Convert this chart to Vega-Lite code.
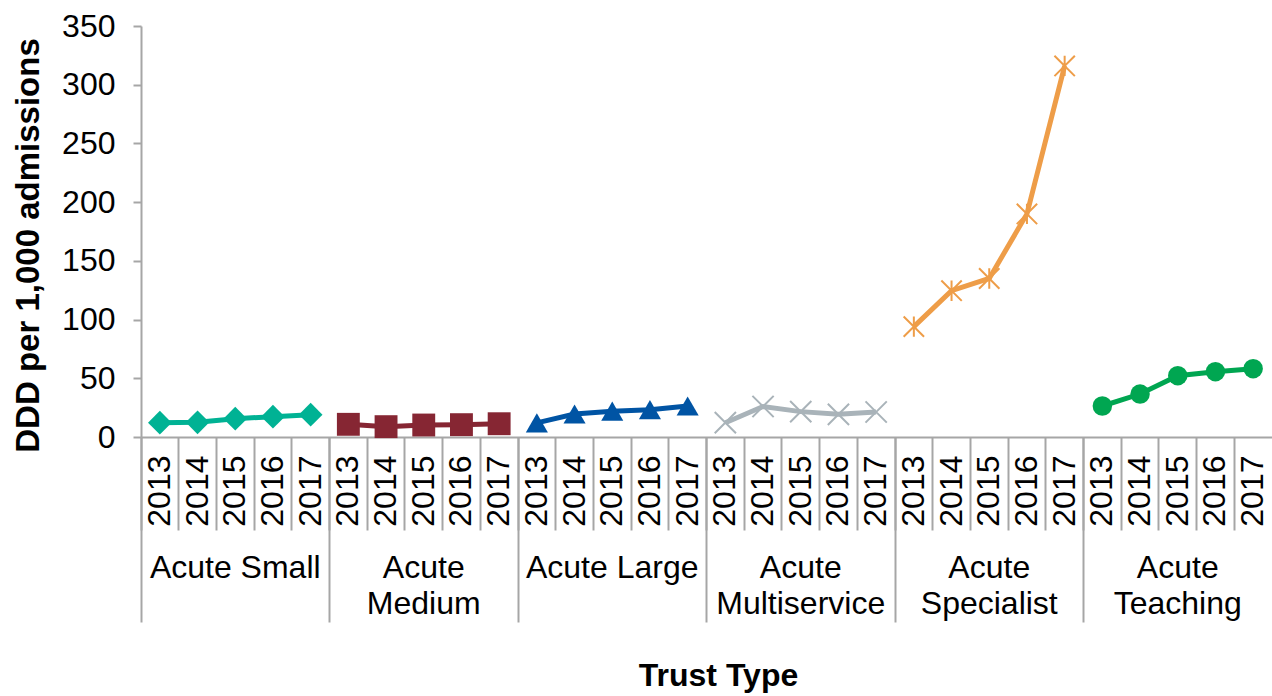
{
  "$schema": "https://vega.github.io/schema/vega-lite/v6.json",
  "autosize": {"type": "none"},
  "width": 1131,
  "height": 411,
  "padding": {"left": 141, "top": 26, "right": 0, "bottom": 259},
  "background": "white",
  "config": {
    "view": {"stroke": null},
    "font": "Liberation Sans",
    "axis": {"domainColor": "#A6A6A6", "tickColor": "#A6A6A6", "domainWidth": 2, "tickWidth": 2, "labelColor": "#000000", "titleColor": "#000000", "labelFont": "Liberation Sans", "titleFont": "Liberation Sans", "labelFontSize": 32, "titleFontSize": 32, "titleFontWeight": "bold", "grid": false}
  },
  "data": {"values": [
    {"type": "Acute Small", "year": "2013", "ddd": 12.2},
    {"type": "Acute Small", "year": "2014", "ddd": 12.5},
    {"type": "Acute Small", "year": "2015", "ddd": 15.6},
    {"type": "Acute Small", "year": "2016", "ddd": 17.3},
    {"type": "Acute Small", "year": "2017", "ddd": 19.0},
    {"type": "Acute Medium", "year": "2013", "ddd": 10.8},
    {"type": "Acute Medium", "year": "2014", "ddd": 8.8},
    {"type": "Acute Medium", "year": "2015", "ddd": 10.2},
    {"type": "Acute Medium", "year": "2016", "ddd": 10.5},
    {"type": "Acute Medium", "year": "2017", "ddd": 11.3},
    {"type": "Acute Large", "year": "2013", "ddd": 12.0},
    {"type": "Acute Large", "year": "2014", "ddd": 19.6},
    {"type": "Acute Large", "year": "2015", "ddd": 22.0},
    {"type": "Acute Large", "year": "2016", "ddd": 23.3},
    {"type": "Acute Large", "year": "2017", "ddd": 26.4},
    {"type": "Acute Multiservice", "year": "2013", "ddd": 12.2},
    {"type": "Acute Multiservice", "year": "2014", "ddd": 26.0},
    {"type": "Acute Multiservice", "year": "2015", "ddd": 21.6},
    {"type": "Acute Multiservice", "year": "2016", "ddd": 19.3},
    {"type": "Acute Multiservice", "year": "2017", "ddd": 21.3},
    {"type": "Acute Specialist", "year": "2013", "ddd": 94},
    {"type": "Acute Specialist", "year": "2014", "ddd": 124.6},
    {"type": "Acute Specialist", "year": "2015", "ddd": 135},
    {"type": "Acute Specialist", "year": "2016", "ddd": 190},
    {"type": "Acute Specialist", "year": "2017", "ddd": 316},
    {"type": "Acute Teaching", "year": "2013", "ddd": 26.4},
    {"type": "Acute Teaching", "year": "2014", "ddd": 36.6},
    {"type": "Acute Teaching", "year": "2015", "ddd": 52.2},
    {"type": "Acute Teaching", "year": "2016", "ddd": 55.6},
    {"type": "Acute Teaching", "year": "2017", "ddd": 58.2}
  ]},
  "transform": [{"calculate": "datum.type + '|' + datum.year", "as": "key"}],
  "resolve": {"axis": {"x": "independent"}},
  "layer": [
    {
      "mark": {"type": "line", "strokeWidth": 5},
      "encoding": {
        "x": {"field": "key", "type": "ordinal", "sort": null,
          "scale": {"type": "band", "paddingInner": 0, "paddingOuter": 0},
          "axis": {"orient": "bottom", "title": null, "bandPosition": 0, "ticks": true, "tickSize": 93,
            "labelExpr": "split(datum.value, '|')[1]", "labelAngle": 270, "labelPadding": -75,
            "labelOverlap": false, "labelAlign": "right", "labelBaseline": "middle"}},
        "y": {"field": "ddd", "type": "quantitative",
          "scale": {"domain": [0, 350], "nice": false, "zero": true},
          "axis": {"title": "DDD per 1,000 admissions", "values": [0, 50, 100, 150, 200, 250, 300, 350],
            "tickSize": 8, "labelPadding": 18, "titleAngle": 270, "titleAlign": "center", "titleBaseline": "middle",
            "titleFontSize": 33, "titleX": -113, "titleY": 219}},
        "color": {"field": "type", "type": "nominal", "legend": null,
          "scale": {"domain": ["Acute Small", "Acute Medium", "Acute Large", "Acute Multiservice", "Acute Specialist", "Acute Teaching"],
            "range": ["#00B294", "#862633", "#0054A4", "#A9B3B9", "#EE9D48", "#00A651"]}}
      }
    },
    {
      "transform": [{"filter": "datum.type != 'Acute Multiservice' && datum.type != 'Acute Specialist'"}],
      "mark": {"type": "point", "filled": true, "opacity": 1},
      "encoding": {
        "x": {"field": "key", "type": "ordinal", "sort": null,
          "axis": {"orient": "bottom", "title": "Trust Type", "ticks": false, "domain": false,
            "values": ["Acute Small|2015", "Acute Medium|2015", "Acute Large|2015", "Acute Multiservice|2015", "Acute Specialist|2015", "Acute Teaching|2015"],
            "labelExpr": "indexof(['Acute Small','Acute Large'], split(datum.value, '|')[0]) >= 0 ? split(datum.value, '|')[0] : split(split(datum.value, '|')[0], ' ')",
            "labelAngle": 0, "labelAlign": "center", "labelBaseline": "top", "labelPadding": 115, "labelLineHeight": 36,
            "labelLimit": 400, "labelOverlap": false,
            "titleX": 577, "titleY": 248, "titleBaseline": "alphabetic", "titleAnchor": "middle", "titleAlign": "center"}},
        "y": {"field": "ddd", "type": "quantitative"},
        "color": {"field": "type", "type": "nominal", "legend": null},
        "size": {"field": "type", "type": "nominal", "legend": null,
          "scale": {"domain": ["Acute Small", "Acute Medium", "Acute Large", "Acute Multiservice", "Acute Specialist", "Acute Teaching"],
            "range": [560, 380, 500, 420, 460, 430]}},
        "shape": {"field": "type", "type": "nominal", "legend": null,
          "scale": {"domain": ["Acute Small", "Acute Medium", "Acute Large", "Acute Multiservice", "Acute Specialist", "Acute Teaching"],
            "range": ["diamond", "square", "triangle-up", "M-1,-1L1,1M-1,1L1,-1", "M-1,-1L1,1M-1,1L1,-1M0,-1L0,1", "circle"]}}
      }
    },
    {
      "transform": [{"filter": "datum.type == 'Acute Multiservice' || datum.type == 'Acute Specialist'"}],
      "mark": {"type": "point", "filled": false, "opacity": 1, "strokeWidth": 2},
      "encoding": {
        "x": {"field": "key", "type": "ordinal", "sort": null,
          "axis": {"orient": "bottom", "title": null, "labels": false, "domain": false, "ticks": true, "tickSize": 185, "bandPosition": 0,
            "values": ["Acute Small|2013", "Acute Medium|2013", "Acute Large|2013", "Acute Multiservice|2013", "Acute Specialist|2013", "Acute Teaching|2013"]}},
        "y": {"field": "ddd", "type": "quantitative"},
        "color": {"field": "type", "type": "nominal", "legend": null},
        "size": {"field": "type", "type": "nominal", "legend": null},
        "shape": {"field": "type", "type": "nominal", "legend": null}
      }
    }
  ]
}
